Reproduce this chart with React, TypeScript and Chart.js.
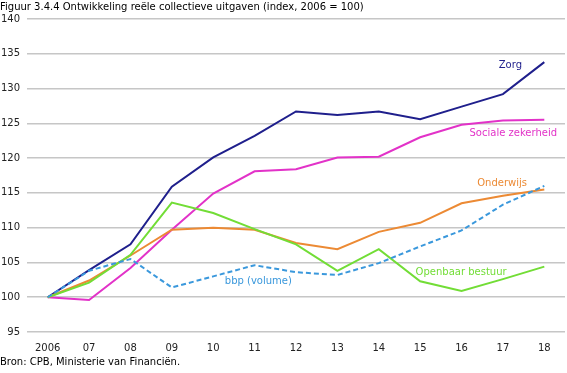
import React, { useEffect, useRef } from "react";
import { Chart, registerables } from "chart.js";

Chart.register(...registerables);

const categories = ["2006", "07", "08", "09", "10", "11", "12", "13", "14", "15", "16", "17", "18"];
const zorg = [100, 103.9, 107.6, 115.9, 120.1, 123.2, 126.7, 126.2, 126.7, 125.6, 127.4, 129.2, 133.8];
const sociale = [100, 99.6, 104.2, 109.7, 114.9, 118.1, 118.4, 120.1, 120.2, 123.0, 124.8, 125.4, 125.5];
const onderwijs = [100, 102.4, 106.0, 109.7, 110.0, 109.7, 107.8, 106.9, 109.4, 110.7, 113.5, 114.6, 115.5];
const openbaar = [100, 102.1, 106.1, 113.6, 112.1, 109.8, 107.6, 103.8, 106.9, 102.3, 100.9, 102.6, 104.4];
const bbp = [100, 103.8, 105.5, 101.4, 103.0, 104.6, 103.6, 103.2, 104.9, 107.3, 109.6, 113.3, 116.0];

const yMin = 95;
const yMax = 140;
const yStep = 5;

const titleText = "Figuur 3.4.4 Ontwikkeling reële collectieve uitgaven (index, 2006 = 100)";
const sourceText = "Bron: CPB, Ministerie van Financiën.";

const FONT = "'DejaVu Sans', Verdana, sans-serif";

const colors = {
  zorg: "#1f1f8c",
  sociale: "#e232c8",
  onderwijs: "#ec8a34",
  openbaar: "#72dd36",
  bbp: "#3a98dc",
};

// series labels: [text, category index (fractional), y value, colour]
const seriesLabels: [string, number, number, string][] = [
  ["Zorg", 11.18, 133.4, colors.zorg],
  ["Sociale zekerheid", 11.25, 123.6, colors.sociale],
  ["Onderwijs", 10.98, 116.4, colors.onderwijs],
  ["Openbaar bestuur", 9.99, 103.5, colors.openbaar],
  ["bbp (volume)", 5.09, 102.3, colors.bbp],
];

const textPlugin = {
  id: "textPlugin",
  afterDatasetsDraw(chart: any) {
    const { ctx, scales } = chart;
    const x = scales.x;
    const y = scales.y;
    ctx.save();
    ctx.font = `10px ${FONT}`;
    ctx.textAlign = "center";
    ctx.textBaseline = "middle";
    for (const [t, xi, yv, c] of seriesLabels) {
      const x0 = x.getPixelForValue(0);
      const x1 = x.getPixelForValue(1);
      const px = x0 + (x1 - x0) * xi;
      ctx.fillStyle = c;
      ctx.fillText(t, px, y.getPixelForValue(yv));
    }
    ctx.fillStyle = "#000";
    ctx.textAlign = "left";
    ctx.fillText(titleText, 0, 7);
    ctx.fillText(sourceText, 0, 362);
    ctx.restore();
  },
};

export default function App() {
  const ref = useRef<HTMLCanvasElement | null>(null);
  useEffect(() => {
    document.body.style.margin = "0";
    const ds = (label: string, data: number[], color: string, dash?: number[]) => ({
      label,
      data,
      borderColor: color,
      backgroundColor: color,
      borderWidth: 2,
      pointRadius: 0,
      tension: 0,
      borderDash: dash || [],
      fill: false,
    });
    const chart = new Chart(ref.current as HTMLCanvasElement, {
      type: "line",
      data: {
        labels: categories,
        datasets: [
          ds("bbp (volume)", bbp, colors.bbp, [5, 3]),
          ds("Openbaar bestuur", openbaar, colors.openbaar),
          ds("Onderwijs", onderwijs, colors.onderwijs),
          ds("Sociale zekerheid", sociale, colors.sociale),
          ds("Zorg", zorg, colors.zorg),
        ],
      },
      options: {
        animation: false,
        responsive: false,
        devicePixelRatio: 1,
        layout: { padding: { top: 19, bottom: 19, right: 2, left: 0 } },
        plugins: {
          legend: { display: false },
          tooltip: { enabled: false },
          title: { display: false },
        },
        scales: {
          x: {
            offset: true,
            grid: { display: false, drawTicks: false },
            border: { display: false },
            ticks: { color: "#222", font: { family: FONT, size: 10 }, padding: 10, maxRotation: 0, autoSkip: false },
            afterFit: (s: any) => { s.height = 22; },
          },
          y: {
            min: yMin,
            max: yMax,
            grid: { color: "#c6c6c6", lineWidth: 1.5, drawTicks: false },
            border: { display: false },
            ticks: { stepSize: yStep, color: "#222", font: { family: FONT, size: 10 }, padding: 7 },
            afterFit: (s: any) => { s.width = 27; },
          },
        },
      },
      plugins: [textPlugin],
    });
    return () => chart.destroy();
  }, []);
  return <canvas ref={ref} width={567} height={373} style={{ display: "block" }} />;
}
